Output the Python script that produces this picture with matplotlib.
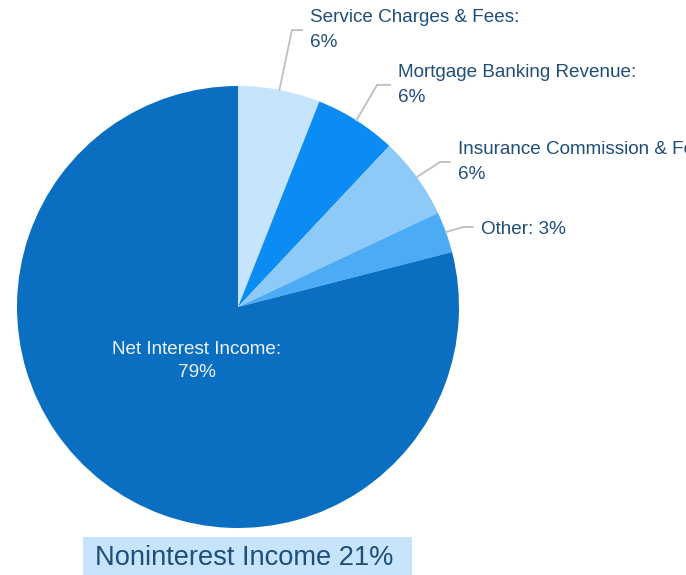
import matplotlib
matplotlib.use('Agg')
import matplotlib.pyplot as plt
from matplotlib.patches import Rectangle
import numpy as np

plt.rcParams['font.family'] = ['Liberation Sans', 'DejaVu Sans']

labels = ['Service Charges & Fees:\n6%', 'Mortgage Banking Revenue:\n6%',
          'Insurance Commission & Fees:\n6%', 'Other: 3%', 'Net Interest Income:\n79%']
values = [6, 6, 6, 3, 79]
colors = ['#c6e4fc', '#0b8cf4', '#8dcaf8', '#4babf4', '#0b6fc1']

# elbow corner (x, y) and end x of each leader line, in pie data units
elbows = [(0.244, 1.253, 0.290), (0.629, 1.005, 0.688),
          (0.914, 0.656, 0.959), (1.018, 0.362, 1.063)]

txtcol = '#1f4e79'

fig = plt.figure(figsize=(6.86, 5.75), dpi=100)
ax = fig.add_axes([17/686, 47/575, 442/686, 442/575])
wedges, _ = ax.pie(values, colors=colors, startangle=90, counterclock=False,
                   radius=1.0, wedgeprops=dict(linewidth=0))
ax.set_xlim(-1, 1)
ax.set_ylim(-1, 1)
ax.set_aspect('equal')
ax.axis('off')

for i in range(4):
    w = wedges[i]
    mid = np.deg2rad((w.theta1 + w.theta2) / 2)
    sx, sy = np.cos(mid), np.sin(mid)
    cx, cy, ex = elbows[i]
    ax.plot([sx, cx, ex], [sy, cy, cy], color='#bfbfbf', lw=1.3, clip_on=False)
    dy = -0.012 if i == 3 else 0
    ax.text(ex + 0.036, cy + dy, labels[i], ha='left', va='center', fontsize=13.6,
            color=txtcol, linespacing=1.6, clip_on=False)

ax.text(-0.186, -0.244, labels[4], ha='center', va='center', fontsize=13.6,
        color='#eef4fb', linespacing=1.5)

# label box at the bottom
fig.patches.append(Rectangle((83/686, 0), 329/686, 38/575, transform=fig.transFigure,
                             facecolor='#c6e4fc', edgecolor='none'))
fig.text(95/686, 1 - 558/575, 'Noninterest Income 21%', ha='left', va='center',
         fontsize=19.6, color=txtcol)

fig.savefig('out.png', dpi=100)
